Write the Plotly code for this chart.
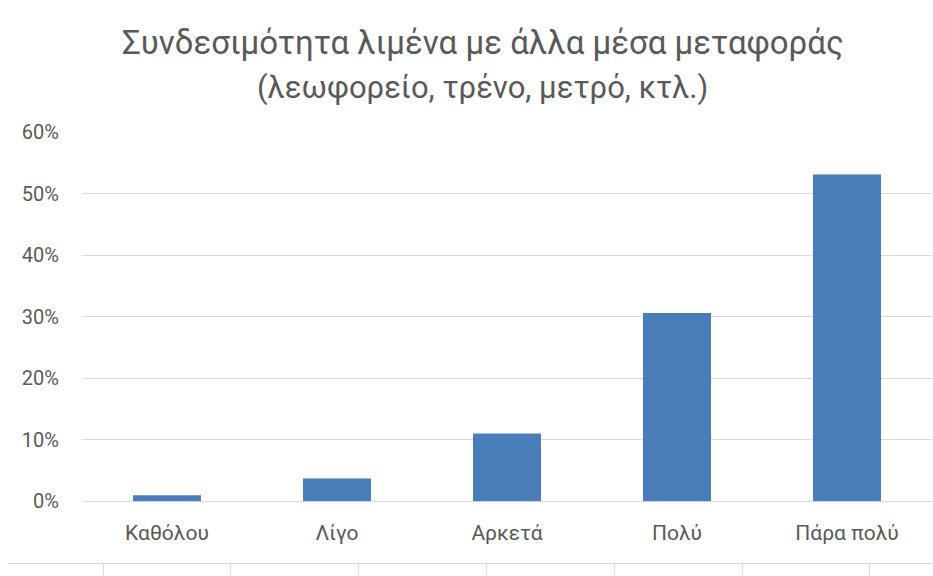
import plotly.graph_objects as go

categories = ["Καθόλου", "Λίγο", "Αρκετά", "Πολύ", "Πάρα πολύ"]
values = [0.01, 0.037, 0.11, 0.306, 0.531]
y_ticks = [0, 0.1, 0.2, 0.3, 0.4, 0.5, 0.6]
y_tick_labels = ["0%", "10%", "20%", "30%", "40%", "50%", "60%"]
title_lines = ["Συνδεσιμότητα λιμένα με άλλα μέσα μεταφοράς",
               "(λεωφορείο, τρένο, μετρό, κτλ.)"]
lower_ticks = [0, 1, 2, 3, 4, 5, 6]

FONT = "Roboto, Open Sans, sans-serif"
TXT = "#595959"
GRID = "#d9d9d9"
BAR = "#4a7ebb"

W, H = 933, 576
ML, MR, MT, MB = 8, 1, 132, 11
plot_w = W - ML - MR
plot_h = H - MT - MB

fig = go.Figure()
fig.add_trace(go.Bar(x=categories, y=values, marker=dict(color=BAR, line=dict(width=0)),
                     xaxis="x", yaxis="y", showlegend=False, hoverinfo="x+y"))
# empty trace for the lower decorative axis
fig.add_trace(go.Scatter(x=[], y=[], xaxis="x2", yaxis="y2", showlegend=False))

x_start = (82 - ML) / plot_w
y_start = (565 - 503) / plot_h

def py(px):
    return 1 + (MT - px) / plot_h

def pxx(px):
    return (px - ML) / plot_w

annotations = [
    dict(text=title_lines[0], x=pxx(483), y=py(42), xref="paper", yref="paper",
         xanchor="center", yanchor="middle", showarrow=False,
         font=dict(family=FONT, size=33, color=TXT)),
    dict(text=title_lines[1], x=pxx(482), y=py(87), xref="paper", yref="paper",
         xanchor="center", yanchor="middle", showarrow=False,
         font=dict(family=FONT, size=31, color=TXT)),
]

fig.update_layout(
    width=W, height=H,
    margin=dict(l=ML, r=MR, t=MT, b=MB, pad=0),
    paper_bgcolor="white", plot_bgcolor="white",
    bargap=0.6,
    annotations=annotations,
    xaxis=dict(domain=[x_start, 1], anchor="y", showgrid=False, showline=False,
               zeroline=False, ticks="", tickfont=dict(family=FONT, size=21, color=TXT),
               ticklabelstandoff=17, fixedrange=True),
    yaxis=dict(domain=[y_start, 1], anchor="x", range=[0, 0.6], tickvals=y_ticks,
               ticktext=y_tick_labels, showgrid=True, gridcolor=GRID, gridwidth=1,
               zeroline=True, zerolinecolor=GRID, zerolinewidth=1, showline=False,
               ticks="", tickfont=dict(family=FONT, size=20, color=TXT),
               ticklabelstandoff=22, fixedrange=True),
    xaxis2=dict(domain=[0, 1], anchor="y2",
                range=[-(103 - ML) / 127.8, -(103 - ML) / 127.8 + plot_w / 127.8],
                tickvals=lower_ticks, showticklabels=False, ticks="outside",
                ticklen=11, tickcolor=GRID, showline=True, linecolor=GRID, linewidth=1,
                showgrid=False, zeroline=False, fixedrange=True),
    yaxis2=dict(domain=[0, 0.01], anchor="x2", visible=False, fixedrange=True),
)

fig.write_html("out.html", config={"displayModeBar": False},
               post_script="document.body.style.margin='0';document.body.style.overflow='hidden';")
